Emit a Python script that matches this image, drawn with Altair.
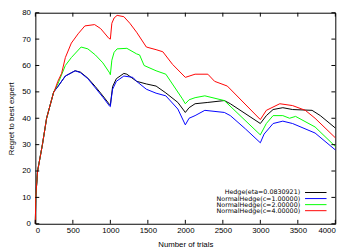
import altair as alt
import pandas as pd

series_names = ["Hedge(eta=0.0830921)", "NormalHedge(c=1.00000)",
                "NormalHedge(c=2.00000)", "NormalHedge(c=4.00000)"]
series_colors = ["#000000", "#0000ff", "#00ff00", "#ff0000"]

start_t = [0, 5, 30, 94, 150, 245]
start_v = [0, 10, 20, 30, 40, 50]

hedge_t = [300, 400, 530, 600, 700, 800, 900, 990, 1000, 1030, 1080, 1180, 1220, 1350, 1480, 1610, 1740, 1900, 2000, 2050, 2130, 2300, 2520, 2600, 3000, 3080, 3170, 3300, 3430, 3690, 3800, 4000]
hedge_v = [52, 56, 58, 57.5, 55.2, 52, 48.5, 45.2, 45, 52, 55, 57, 56.7, 54, 53, 52.2, 49.6, 46, 42.2, 44, 45.5, 46, 46.7, 45.5, 38, 41, 43.3, 44, 43.3, 43, 41, 36.3]

nh1_t = [300, 400, 530, 600, 700, 800, 900, 990, 1000, 1010, 1030, 1080, 1180, 1300, 1350, 1480, 1610, 1740, 1900, 2000, 2050, 2130, 2260, 2520, 2600, 2800, 3000, 3050, 3170, 3300, 3430, 3730, 4000]
nh1_v = [52, 56, 58, 57.3, 55, 51.5, 48, 44.6, 44.4, 47, 51, 54, 56, 55.5, 54, 51, 49.5, 48.5, 43.5, 37.5, 40, 41, 43, 42.2, 41, 36, 30.7, 34, 38, 38.9, 38, 34.4, 28]

nh2_t = [300, 400, 480, 610, 700, 800, 900, 990, 1000, 1020, 1050, 1090, 1220, 1350, 1390, 1450, 1610, 1740, 1960, 2000, 2050, 2130, 2260, 2520, 3000, 3080, 3170, 3300, 3390, 3470, 3730, 4000]
nh2_v = [53, 60, 63, 67, 66.3, 64, 61, 57.2, 56.5, 62, 65, 66.3, 66.5, 64.4, 64, 60, 58, 56.7, 47.4, 45.5, 47, 47.8, 48.5, 46.7, 33.7, 38, 41, 41, 40, 40.7, 36.7, 29.3]

nh4_t = [250, 300, 350, 400, 480, 570, 660, 790, 870, 980, 1000, 1020, 1050, 1090, 1180, 1260, 1350, 1480, 1610, 1700, 1830, 2000, 2130, 2300, 2390, 2560, 3000, 3080, 3260, 3430, 3600, 3730, 4000]
nh4_v = [50, 54, 57, 63, 68.5, 72, 75, 75.5, 74, 70.3, 70, 76, 78, 79, 78.5, 76, 72.6, 67, 66, 65.2, 60.4, 55.5, 56.7, 56.7, 54, 52.2, 39.5, 43, 45.5, 44.8, 43, 40, 32.6]

x_ticks = [0, 500, 1000, 1500, 2000, 2500, 3000, 3500, 4000]
y_ticks = [0, 10, 20, 30, 40, 50, 60, 70, 80]

W, H = 307, 216
FONT = "Liberation Sans"

rows = []
all_series = [(hedge_t, hedge_v), (nh1_t, nh1_v), (nh2_t, nh2_v), (nh4_t, nh4_v)]
for k, (ts, vs) in enumerate(all_series):
    st = [(t, v) for t, v in zip(start_t, start_v) if t < ts[0]]
    for i, (t, v) in enumerate(st + list(zip(ts, vs))):
        rows.append({"t": t, "v": v, "s": series_names[k], "k": k, "i": i})
df = pd.DataFrame(rows)

xs = alt.Scale(domain=[0, 4000], nice=False)
ys = alt.Scale(domain=[0, 80], nice=False)

x_axis = alt.Axis(values=x_ticks, format="d", labelOverlap=False, tickSize=0,
                  domain=False, grid=False,
                  labelPadding=3, titlePadding=6, labelFontSize=8,
                  titleFontSize=8, titleFontWeight="normal",
                  labelFont=FONT, titleFont=FONT, labelColor="black", titleColor="black")
y_axis = alt.Axis(values=y_ticks, format="d", labelOverlap=False, tickSize=0,
                  domain=False, grid=False,
                  labelPadding=5, titlePadding=6, labelFontSize=8,
                  titleFontSize=8, titleFontWeight="normal",
                  labelFont=FONT, titleFont=FONT, labelColor="black", titleColor="black")
X_TITLE = "Number of trials"
Y_TITLE = "Regret to best expert"

lines = alt.Chart(df).mark_line(strokeWidth=1, interpolate="linear").encode(
    x=alt.X("t:Q", scale=xs, title=X_TITLE, axis=x_axis),
    y=alt.Y("v:Q", scale=ys, title=Y_TITLE, axis=y_axis),
    color=alt.Color("s:N", scale=alt.Scale(domain=series_names, range=series_colors), legend=None),
    detail="k:N",
    order="i:Q",
)

xt = pd.DataFrame({"t": x_ticks})
yt = pd.DataFrame({"v": y_ticks})
tick_len = 4
ticks = [
    alt.Chart(xt).mark_rule(color="black", strokeWidth=1).encode(
        x=alt.X("t:Q", scale=xs, title=X_TITLE, axis=x_axis), y=alt.value(H), y2=alt.value(H - tick_len)),
    alt.Chart(xt).mark_rule(color="black", strokeWidth=1).encode(
        x=alt.X("t:Q", scale=xs, title=X_TITLE, axis=x_axis), y=alt.value(0), y2=alt.value(tick_len)),
    alt.Chart(yt).mark_rule(color="black", strokeWidth=1).encode(
        y=alt.Y("v:Q", scale=ys, title=Y_TITLE, axis=y_axis), x=alt.value(0), x2=alt.value(tick_len)),
    alt.Chart(yt).mark_rule(color="black", strokeWidth=1).encode(
        y=alt.Y("v:Q", scale=ys, title=Y_TITLE, axis=y_axis), x=alt.value(W), x2=alt.value(W - tick_len)),
]

legend_layers = []
for k, name in enumerate(series_names):
    yy = 184 + 6.2 * k
    ld = pd.DataFrame({"label": [name]})
    legend_layers.append(
        alt.Chart(ld).mark_text(align="right", baseline="middle", fontSize=6.5,
                                font="DejaVu Sans", color="black").encode(
            x=alt.value(271), y=alt.value(yy), text="label:N"))
    legend_layers.append(
        alt.Chart(ld).mark_rule(color=series_colors[k], strokeWidth=1).encode(
            x=alt.value(276), x2=alt.value(298), y=alt.value(yy)))

chart = alt.layer(lines, *ticks, *legend_layers).properties(
    width=W, height=H,
    autosize=alt.AutoSizeParams(type="none"),
    padding={"left": 28, "top": 2, "right": 14, "bottom": 24},
    background="white",
).configure_view(stroke="black", strokeWidth=1).configure_axis(labelOverlap=False)

chart.save("out.html", embed_options={"renderer": "svg", "actions": False})
